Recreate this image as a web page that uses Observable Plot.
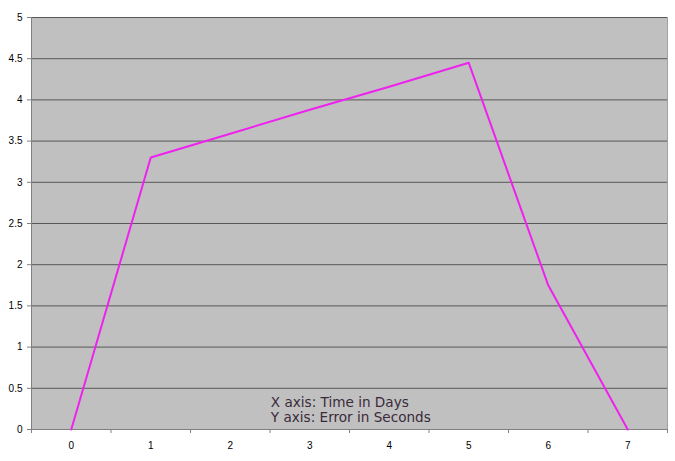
<!DOCTYPE html>
<html>
<head>
<meta charset="utf-8">
<script src="https://cdn.jsdelivr.net/npm/d3@7"></script>
<script src="https://cdn.jsdelivr.net/npm/@observablehq/plot@0.6"></script>
<style>
  html, body { margin: 0; padding: 0; background: #fff; }
  #chart { width: 675px; height: 461px; }
</style>
</head>
<body>
<div id="chart"></div>
<script>
const days = [0, 1, 2, 3, 4, 5, 6, 7];
const errorSeconds = [0, 3.3, 3.59, 3.88, 4.16, 4.45, 1.75, 0];
const yTicks = [0, 0.5, 1, 1.5, 2, 2.5, 3, 3.5, 4, 4.5, 5];
const xBoundaries = [-0.5, 0.5, 1.5, 2.5, 3.5, 4.5, 5.5, 6.5, 7.5];
const noteLines = ["X axis: Time in Days", "Y axis: Error in Seconds"];

const data = days.map((d, i) => ({day: d, err: errorSeconds[i]}));

const chart = Plot.plot({
  width: 675,
  height: 461,
  marginLeft: 31,
  marginRight: 8,
  marginTop: 17,
  marginBottom: 32,
  style: {background: "#fff", fontFamily: "'Liberation Sans', Arial, sans-serif", fontSize: "10px", color: "#000"},
  x: {domain: [-0.5, 7.5], axis: null, label: null},
  y: {domain: [0, 5], axis: null, label: null},
  marks: [
    Plot.frame({fill: "#C0C0C0", stroke: null}),
    Plot.ruleY(yTicks.filter(t => t > 0), {stroke: "#585858", strokeWidth: 1}),
    Plot.ruleX([7.5], {stroke: "#a0a0a0", strokeWidth: 1}),
    Plot.ruleX([-0.5], {stroke: "#808080", strokeWidth: 1}),
    Plot.ruleY([0], {stroke: "#808080", strokeWidth: 1}),
    Plot.axisY({ticks: yTicks, tickSize: 4, tickPadding: 5, stroke: "#808080", fill: "#000", label: null, tickFormat: d => String(d)}),
    Plot.axisX({ticks: xBoundaries, tickSize: 4, tickFormat: () => "", stroke: "#808080", label: null}),
    Plot.axisX({ticks: days, tickSize: 0, tickPadding: 12, fill: "#000", label: null, tickFormat: d => String(d)}),
    Plot.line(data, {x: "day", y: "err", stroke: "#EE22EE", strokeWidth: 2}),
    Plot.text([noteLines.join("\n")], {
      x: [2.51], y: [0.237], text: d => d,
      textAnchor: "start", lineHeight: 1.1,
      fontFamily: "'DejaVu Sans', Verdana, sans-serif", fontSize: 13.6, fill: "#3a2a3a"
    })
  ]
});
document.getElementById("chart").appendChild(chart);
</script>
</body>
</html>
